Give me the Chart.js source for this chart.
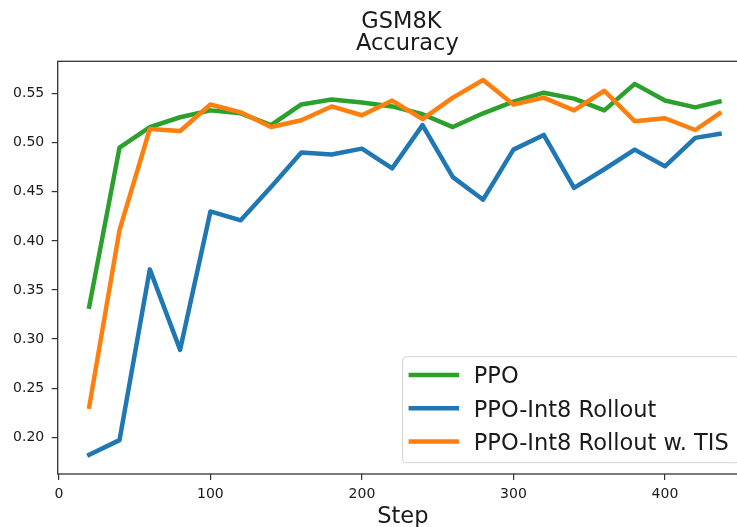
<!DOCTYPE html>
<html>
<head>
<meta charset="utf-8">
<script src="https://cdn.jsdelivr.net/npm/chart.js@4/dist/chart.umd.min.js"></script>
<style>
  html, body { margin: 0; padding: 0; background: #ffffff; overflow: hidden; }
  #wrap { position: relative; width: 752px; height: 527px; }
</style>
</head>
<body>
<div id="wrap"><canvas id="chart"></canvas></div>
<script>
// Training steps at which GSM8K accuracy was evaluated
const steps = [20, 40, 60, 80, 100, 120, 140, 160, 180, 200, 220, 240, 260, 280, 300, 320, 340, 360, 380, 400, 420, 436];

// Accuracy per run
const ppo = [0.333, 0.495, 0.516, 0.526, 0.533, 0.530, 0.518, 0.539, 0.544, 0.541, 0.537, 0.529, 0.516, 0.530, 0.542, 0.551, 0.545, 0.533, 0.560, 0.543, 0.536, 0.542];
const ppoInt8 = [0.182, 0.197, 0.371, 0.289, 0.430, 0.421, 0.455, 0.490, 0.488, 0.494, 0.474, 0.518, 0.465, 0.442, 0.493, 0.508, 0.454, 0.473, 0.493, 0.476, 0.505, 0.509];
const ppoInt8Tis = [0.231, 0.411, 0.514, 0.512, 0.539, 0.531, 0.516, 0.523, 0.537, 0.528, 0.543, 0.524, 0.546, 0.564, 0.539, 0.546, 0.533, 0.553, 0.522, 0.525, 0.513, 0.530];

const seriesNames = ['PPO', 'PPO-Int8 Rollout', 'PPO-Int8 Rollout w. TIS'];
const seriesColors = ['#2ca02c', '#1f77b4', '#ff7f0e'];

// Axis ticks
const xTicks = [0, 100, 200, 300, 400];
const yTicks = [0.20, 0.25, 0.30, 0.35, 0.40, 0.45, 0.50, 0.55];

const titleLines = ['GSM8K', 'Accuracy'];
const xTitle = 'Step';

const FONT = '"DejaVu Sans", "Liberation Sans", sans-serif';
const TEXT = '#1a1a1a';

function toPoints(ys) {
  return steps.map((s, i) => ({ x: s, y: ys[i] }));
}

const seriesValues = [ppo, ppoInt8, ppoInt8Tis];
// later series are painted on top of earlier ones
const datasets = seriesValues.map((vals, i) => ({
  label: seriesNames[i],
  data: toPoints(vals),
  borderColor: seriesColors[i],
  backgroundColor: seriesColors[i],
  borderWidth: 4.5,
  pointRadius: 0,
  tension: 0,
  borderJoinStyle: 'round',
  borderCapStyle: 'square',
  order: seriesValues.length - 1 - i
}));

// Frame, titles and the boxed legend in the lower-right corner
const decorations = {
  id: 'decorations',
  afterDatasetsDraw(chart) {
    const { ctx, chartArea: a } = chart;
    ctx.save();
    // full frame around the plot
    ctx.strokeStyle = '#333333';
    ctx.lineWidth = 1.3;
    ctx.strokeRect(a.left, a.top, a.right - a.left, a.bottom - a.top);

    // legend
    ctx.font = '22.5px ' + FONT;
    const textW = Math.max(...seriesNames.map(n => ctx.measureText(n).width));
    const boxRight = a.right - 11.25;
    const boxBottom = a.bottom - 11.3;
    const boxH = 106;
    const boxW = 71.2 + textW + 11;
    const boxLeft = boxRight - boxW;
    const boxTop = boxBottom - boxH;
    ctx.beginPath();
    ctx.roundRect(boxLeft, boxTop, boxW, boxH, 4);
    ctx.fillStyle = 'rgba(255,255,255,0.8)';
    ctx.fill();
    ctx.strokeStyle = '#d3d3d3';
    ctx.lineWidth = 1;
    ctx.stroke();

    seriesNames.forEach((name, i) => {
      const cy = boxTop + 18.3 + i * 33.3;
      ctx.beginPath();
      ctx.moveTo(boxLeft + 6, cy);
      ctx.lineTo(boxLeft + 56.5, cy);
      ctx.strokeStyle = seriesColors[i];
      ctx.lineWidth = 4.5;
      ctx.lineCap = 'butt';
      ctx.stroke();
      ctx.fillStyle = TEXT;
      ctx.textAlign = 'left';
      ctx.textBaseline = 'alphabetic';
      ctx.fillText(name, boxLeft + 71.2, cy + 8.2);
    });
    ctx.restore();
  },
  afterDraw(chart) {
    const { ctx, chartArea: a } = chart;
    const cx = (a.left + a.right) / 2;
    ctx.save();
    ctx.fillStyle = TEXT;
    ctx.textAlign = 'center';
    ctx.textBaseline = 'alphabetic';
    ctx.font = '22.5px ' + FONT;
    ctx.fillText(titleLines[0], cx - 3, 27.7);
    ctx.fillText(titleLines[1], cx + 3, 50);
    ctx.fillText(xTitle, cx - 1.5, 523.3);
    ctx.restore();
  }
};

new Chart(document.getElementById('chart'), {
  type: 'line',
  data: { datasets },
  options: {
    responsive: true,
    maintainAspectRatio: false,
    animation: false,
    devicePixelRatio: 1,
    layout: { padding: { top: 61.3, right: 1, left: 0, bottom: 0 } },
    plugins: {
      legend: { display: false },
      title: { display: false },
      tooltip: { enabled: false }
    },
    scales: {
      x: {
        type: 'linear',
        min: -0.8,
        max: 456.8,
        afterFit(scale) { scale.height = 53; },
        afterBuildTicks(scale) { scale.ticks = xTicks.map(v => ({ value: v })); },
        border: { display: false },
        grid: {
          display: true,
          drawOnChartArea: false,
          drawTicks: true,
          tickLength: 6,
          color: '#333333',
          lineWidth: 1.2
        },
        ticks: {
          color: TEXT,
          font: { family: FONT, size: 14 },
          padding: 6,
          maxRotation: 0,
          autoSkip: false,
          callback: v => String(v)
        }
      },
      y: {
        type: 'linear',
        min: 0.1625,
        max: 0.583,
        afterFit(scale) { scale.width = 57.7; },
        afterBuildTicks(scale) { scale.ticks = yTicks.map(v => ({ value: v })); },
        border: { display: false },
        grid: {
          display: true,
          drawOnChartArea: false,
          drawTicks: true,
          tickLength: 6,
          color: '#333333',
          lineWidth: 1.2
        },
        ticks: {
          color: TEXT,
          font: { family: FONT, size: 14 },
          padding: 7.5,
          autoSkip: false,
          callback: v => Number(v).toFixed(2)
        }
      }
    }
  },
  plugins: [decorations]
});
</script>
</body>
</html>
